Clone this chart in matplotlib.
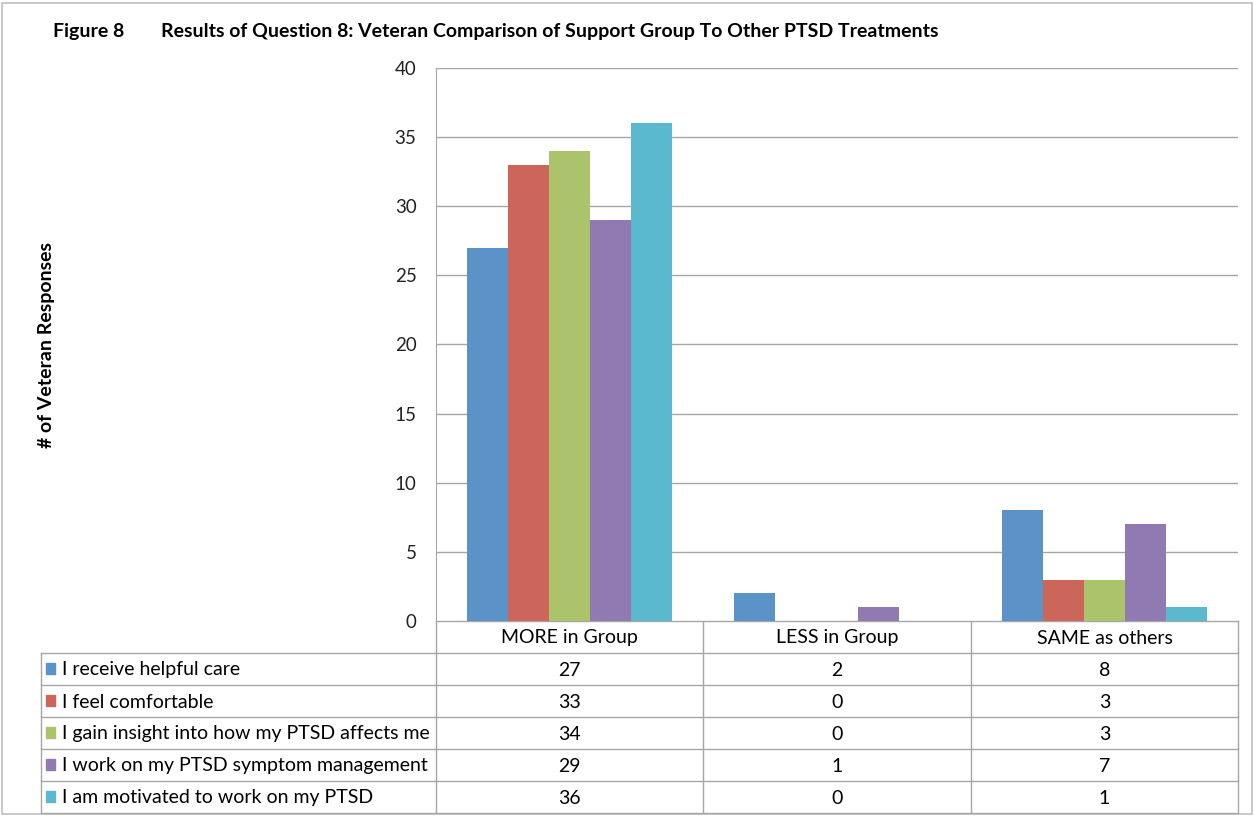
import matplotlib
matplotlib.use('AGG')
import numpy as np
import matplotlib.pyplot as plt
from matplotlib.patches import Rectangle
from matplotlib.lines import Line2D

plt.rcParams['font.family'] = ['Lato', 'DejaVu Sans']

categories = ["MORE in Group", "LESS in Group", "SAME as others"]
series_names = [
    "I receive helpful care",
    "I feel comfortable",
    "I gain insight into how my PTSD affects me",
    "I work on my PTSD symptom management",
    "I am motivated to work on my PTSD",
]
helpful_care = [27, 2, 8]
comfortable = [33, 0, 3]
insight = [34, 0, 3]
symptom_mgmt = [29, 1, 7]
motivated = [36, 0, 1]
series_values = [helpful_care, comfortable, insight, symptom_mgmt, motivated]
colors = ['#5B92C8', '#CC655A', '#ABC36A', '#917AB2', '#5BB9CF']
yticks = [0, 5, 10, 15, 20, 25, 30, 35, 40]

W, H = 1254, 816
fig = plt.figure(figsize=(W / 100, H / 100), dpi=100)
fig.patch.set_facecolor('white')

# plot area in pixel terms
px_l, px_r, px_t, px_b = 436, 1238, 68, 621
ax = fig.add_axes([px_l / W, 1 - px_b / H, (px_r - px_l) / W, (px_b - px_t) / H])

n = len(series_values)
bw = 1.0 / (n + 1.5)
x = np.arange(len(categories))
for i, (vals, c) in enumerate(zip(series_values, colors)):
    ax.bar(x - (n / 2 - 0.5 - i) * bw, vals, width=bw, color=c, zorder=3)

ax.set_xlim(-0.5, len(categories) - 0.5)
ax.set_ylim(0, 40)
ax.set_yticks(yticks)
ax.set_xticks([])
ax.grid(axis='y', color='#A6A6A6', linewidth=1, zorder=0)
for s in ['top', 'right', 'bottom']:
    ax.spines[s].set_visible(False)
ax.spines['left'].set_color('#A6A6A6')
ax.tick_params(axis='y', length=0, pad=14, labelsize=13.5, colors='#222222')

# overlay in pixel coordinates for title, label and data table
ov = fig.add_axes([0, 0, 1, 1], zorder=-1)
ov.set_xlim(0, W)
ov.set_ylim(H, 0)
ov.axis('off')

ov.add_patch(Rectangle((2, 3), W - 4, H - 5, fill=False, edgecolor='#BFBFBF', lw=1.2))
ov.text(53, 32, "Figure 8", fontsize=14, fontweight='bold', va='center', ha='left')
ov.text(161, 32, "Results of Question 8: Veteran Comparison of Support Group To Other PTSD Treatments",
        fontsize=14, fontweight='bold', va='center', ha='left')
ov.text(47, 345, "# of Veteran Responses", fontsize=14, fontweight='bold',
        rotation=90, va='center', ha='center')

# data table
gc = '#A6A6A6'
col_x = [436, 703, 971, 1238]
row_y = [621, 653, 685, 717, 749, 781, 813]
tab_left = 41
for xv in col_x:
    ov.add_line(Line2D([xv, xv], [row_y[0], row_y[-1]], color=gc, lw=1))
ov.add_line(Line2D([tab_left, tab_left], [row_y[1], row_y[-1]], color=gc, lw=1))
ov.add_line(Line2D([col_x[0], col_x[-1]], [row_y[0], row_y[0]], color=gc, lw=1))
for yv in row_y[1:]:
    ov.add_line(Line2D([tab_left, col_x[-1]], [yv, yv], color=gc, lw=1))

for j, cat in enumerate(categories):
    cx = (col_x[j] + col_x[j + 1]) / 2
    ov.text(cx, (row_y[0] + row_y[1]) / 2 + 1, cat, fontsize=14, ha='center', va='center')

for i, (name, vals, c) in enumerate(zip(series_names, series_values, colors)):
    cy = (row_y[i + 1] + row_y[i + 2]) / 2 + 1
    ov.add_patch(Rectangle((46, cy - 7), 9, 11, color=c))
    ov.text(62, cy, name, fontsize=14, ha='left', va='center')
    for j, v in enumerate(vals):
        cx = (col_x[j] + col_x[j + 1]) / 2
        ov.text(cx, cy, str(v), fontsize=14, ha='center', va='center')

fig.savefig('out.png', dpi=100)
